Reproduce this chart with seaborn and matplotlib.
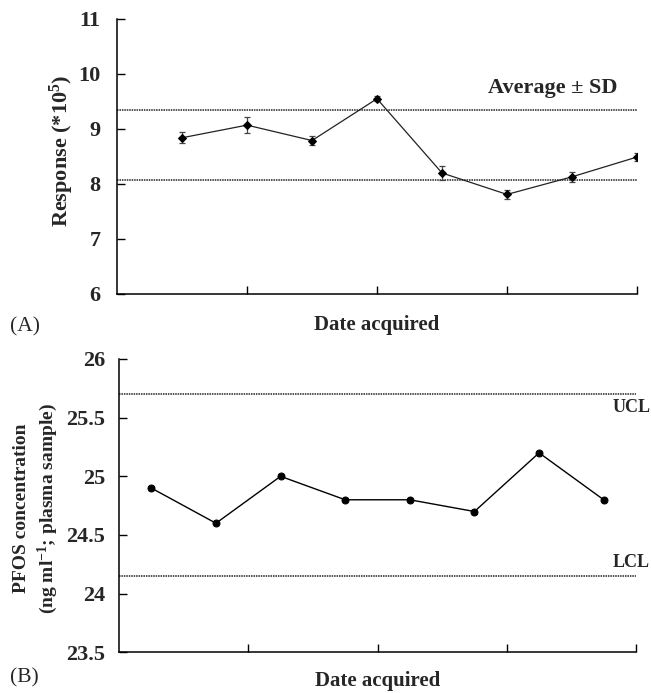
import matplotlib
matplotlib.use("Agg")
import matplotlib.pyplot as plt
import seaborn as sns
import pandas as pd
from matplotlib.ticker import FuncFormatter

# ---- data ----
a_x = [0.5, 1.0, 1.5, 2.0, 2.5, 3.0, 3.5, 4.0]
a_resp = [8.84, 9.07, 8.79, 9.55, 8.20, 7.81, 8.13, 8.49]
a_sd = [0.10, 0.14, 0.09, 0.05, 0.12, 0.08, 0.09, 0.08]
a_upper = 9.35
a_lower = 8.08

b_x = [0.25, 0.75, 1.25, 1.75, 2.25, 2.75, 3.25, 3.75]
b_conc = [24.9, 24.6, 25.0, 24.8, 24.8, 24.7, 25.2, 24.8]
b_ucl = 25.7
b_lcl = 24.15

a_yticks = [6, 7, 8, 9, 10, 11]
b_yticks = [23.5, 24, 24.5, 25, 25.5, 26]
x_ticks = [1, 2, 3, 4]

sns.set_style("ticks")
plt.rcParams['font.family'] = ['Liberation Serif', 'DejaVu Serif']
plt.rcParams['mathtext.fontset'] = 'custom'
plt.rcParams['mathtext.rm'] = 'Liberation Serif:bold'
plt.rcParams['mathtext.bf'] = 'Liberation Serif:bold'
plt.rcParams['mathtext.it'] = 'Liberation Serif:bold'

fig = plt.figure(figsize=(6.51, 6.93), dpi=100)
ax1 = fig.add_axes([0.1797, 0.5758, 0.9785 - 0.1797, 0.9726 - 0.5758])
ax2 = fig.add_axes([0.1828, 0.0587, 0.977 - 0.1828, 0.482 - 0.0587])

df_a = pd.DataFrame({"x": a_x, "y": a_resp, "sd": a_sd})
df_b = pd.DataFrame({"x": b_x, "y": b_conc})

# ---- panel A ----
ax1.errorbar(df_a["x"], df_a["y"], yerr=df_a["sd"], fmt="none", ecolor="#444444",
             elinewidth=0.9, capsize=2.5, capthick=0.9, zorder=3)
sns.lineplot(data=df_a, x="x", y="y", ax=ax1, color="#222222", lw=0.9,
             marker="D", markersize=4, markeredgecolor="black", markerfacecolor="black",
             zorder=4)
for v in (a_upper, a_lower):
    ax1.axhline(v, color="#222222", lw=1.1, ls=(0, (1, 0.6)), zorder=2)
ax1.text(0.838, 9.75, "Average ± SD", transform=ax1.get_yaxis_transform(),
         ha="center", va="center", fontsize=16, fontweight="bold")
ax1.set_xlim(0, 4)
ax1.set_ylim(6, 11)
ax1.set_yticks(a_yticks)
ax1.set_xticks(x_ticks)
ax1.set_xticklabels([])
ax1.set_xlabel("Date acquired", fontsize=15, fontweight="bold", labelpad=12)
ax1.set_ylabel("Response (*10$^{5}$)", fontsize=16, fontweight="bold")
ax1.yaxis.set_label_coords(-0.078, 0.52)

# ---- panel B ----
sns.lineplot(data=df_b, x="x", y="y", ax=ax2, color="black", lw=1.0,
             marker="o", markersize=5, markeredgecolor="black", markerfacecolor="black")
for v in (b_ucl, b_lcl):
    ax2.axhline(v, color="#222222", lw=1.1, ls=(0, (1, 0.6)), zorder=2)
ax2.text(0.955, b_ucl - 0.04, "UCL", transform=ax2.get_yaxis_transform(),
         ha="left", va="top", fontsize=13, fontweight="bold", clip_on=False)
ax2.text(0.955, b_lcl + 0.04, "LCL", transform=ax2.get_yaxis_transform(),
         ha="left", va="bottom", fontsize=13, fontweight="bold", clip_on=False)
ax2.set_xlim(0, 4)
ax2.set_ylim(23.5, 26)
ax2.set_yticks(b_yticks)
ax2.yaxis.set_major_formatter(FuncFormatter(lambda v, p: f"{v:g}"))
ax2.set_xticks(x_ticks)
ax2.set_xticklabels([])
ax2.set_xlabel("Date acquired", fontsize=15, fontweight="bold", labelpad=10)
ax2.set_ylabel("PFOS concentration\n(ng ml$^{-1}$; plasma sample)", fontsize=14,
               fontweight="bold", linespacing=1.35)
ax2.yaxis.set_label_coords(-0.114, 0.49)

for ax in (ax1, ax2):
    sns.despine(ax=ax)
    for s in ("left", "bottom"):
        ax.spines[s].set_linewidth(1.1)
        ax.spines[s].set_color("black")
    ax.tick_params(axis="both", direction="in", length=6, width=1.0, color="black")
    ax.tick_params(axis="y", labelsize=16)
    for lab in ax.get_yticklabels():
        lab.set_fontweight("bold")
ax1.tick_params(axis="y", pad=12)
ax2.tick_params(axis="y", pad=10)

fig.text(0.015, 0.528, "(A)", fontsize=15.5, ha="left", va="center")
fig.text(0.015, 0.0216, "(B)", fontsize=15.5, ha="left", va="center")

fig.savefig("out.png", dpi=100)
